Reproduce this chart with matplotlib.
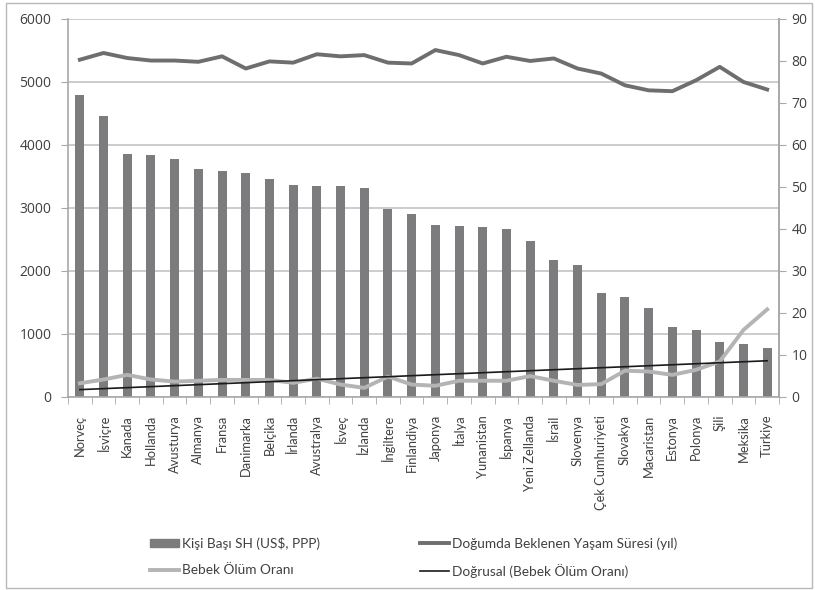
import numpy as np
import matplotlib
matplotlib.use("Agg")
import matplotlib.pyplot as plt
from matplotlib.patches import Rectangle
from matplotlib.lines import Line2D

plt.rcParams['font.family'] = ['Lato', 'DejaVu Sans']

countries = ["Norveç", "İsviçre", "Kanada", "Hollanda", "Avusturya", "Almanya",
             "Fransa", "Danimarka", "Belçika", "İrlanda", "Avustralya", "İsveç",
             "İzlanda", "İngiltere", "Finlandiya", "Japonya", "İtalya", "Yunanistan",
             "İspanya", "Yeni Zellanda", "İsrail", "Slovenya", "Çek Cumhuriyeti",
             "Slovakya", "Macaristan", "Estonya", "Polonya", "Şili", "Meksika", "Türkiye"]

# Per-capita health expenditure (US$, PPP)
health_spend = [4786, 4453, 3855, 3836, 3783, 3620, 3583, 3546, 3456, 3367,
                3345, 3345, 3308, 2981, 2907, 2728, 2712, 2696, 2660, 2474,
                2169, 2095, 1641, 1583, 1404, 1108, 1056, 871, 834, 781]

# Life expectancy at birth (years)
life_exp = [80.3, 81.9, 80.7, 80.1, 80.1, 79.8, 81.1, 78.2, 79.9, 79.6,
            81.6, 81.1, 81.4, 79.6, 79.4, 82.6, 81.4, 79.4, 81.0, 80.0,
            80.6, 78.2, 77.0, 74.2, 73.0, 72.8, 75.4, 78.6, 75.0, 73.2]

# Infant mortality rate
infant_mort = [3.2, 4.1, 5.2, 4.1, 3.6, 3.8, 4.0, 4.0, 4.0, 3.3,
               4.3, 2.9, 2.1, 4.8, 2.9, 2.6, 3.8, 3.8, 3.8, 4.9,
               3.8, 2.8, 3.0, 6.2, 6.0, 5.2, 6.4, 8.4, 15.9, 20.8]

left_ticks = [0, 1000, 2000, 3000, 4000, 5000, 6000]
right_ticks = [0, 10, 20, 30, 40, 50, 60, 70, 80, 90]

bar_color = "#7c7c7e"
life_color = "#6e6e6e"
infant_color = "#b4b4b4"
trend_color = "#1a1a1a"
grid_color = "#c4c4c4"
spine_color = "#a8a8a8"
text_color = "#404040"
num_font = ['Open Sans', 'DejaVu Sans']

fig = plt.figure(figsize=(8.15, 5.9), dpi=100)
fig.patch.set_facecolor("white")
fig.patches.append(Rectangle((6 / 815, 2 / 590), 806 / 815, 585 / 590,
                             transform=fig.transFigure, fill=False,
                             edgecolor="#b8b8b8", linewidth=1.0))

ax = fig.add_axes([68 / 815, 1 - 396.7 / 590, (779 - 68) / 815, (396.7 - 19) / 590])
x = np.arange(len(countries))

ax.bar(x, health_spend, width=0.38, color=bar_color, zorder=2)
ax.set_xlim(-0.5, len(countries) - 0.5)
ax.set_ylim(0, 6000)
ax.set_yticks(left_ticks)
ax.set_yticklabels([str(v) for v in left_ticks], family=num_font)
ax.yaxis.grid(True, color=grid_color, linewidth=1.2, zorder=0)
ax.set_axisbelow(True)

ax.set_xticks(x)
ax.set_xticklabels(countries, rotation=90, fontsize=9.3, color=text_color)
ax.set_xticks(np.arange(-0.5, len(countries)), minor=True)
ax.tick_params(axis="x", which="major", length=0, pad=13)
ax.tick_params(axis="x", which="minor", length=5, color=spine_color, direction="out")
ax.tick_params(axis="y", length=5, color=spine_color, labelsize=10,
               labelcolor=text_color, pad=7)

ax.spines["top"].set_visible(False)
for side in ("left", "bottom", "right"):
    ax.spines[side].set_color(spine_color)
    ax.spines[side].set_linewidth(1.2)

ax2 = ax.twinx()
ax2.set_ylim(0, 90)
ax2.set_yticks(right_ticks)
ax2.set_yticklabels([str(v) for v in right_ticks], family=num_font)
ax2.tick_params(axis="y", length=5, color=spine_color, labelsize=10,
                labelcolor=text_color, pad=4)
for side in ("top", "left", "bottom"):
    ax2.spines[side].set_visible(False)
ax2.spines["right"].set_color(spine_color)
ax2.spines["right"].set_linewidth(1.2)

ax2.plot(x, life_exp, color=life_color, linewidth=2.8, solid_joinstyle="round", zorder=3)
ax2.plot(x, infant_mort, color=infant_color, linewidth=2.8, solid_joinstyle="round", zorder=3)

# Linear trendline of the infant mortality series
slope, intercept = np.polyfit(x, infant_mort, 1)
ax2.plot(x, slope * x + intercept, color=trend_color, linewidth=1.2, zorder=4)

legend_kw = dict(loc="upper left", frameon=False, fontsize=9.8, handlelength=2.1,
                 handleheight=0.55, handletextpad=0.25, labelspacing=1.05,
                 borderaxespad=0, borderpad=0)

leg1 = fig.legend([Rectangle((0, 0), 1, 1, color=bar_color),
                   Line2D([], [], color=infant_color, linewidth=2.8)],
                  ["Kişi Başı SH (US$, PPP)", "Bebek Ölüm Oranı"],
                  bbox_to_anchor=(150 / 815, 1 - 537 / 590), **legend_kw)
leg2 = fig.legend([Line2D([], [], color=life_color, linewidth=2.8),
                   Line2D([], [], color=trend_color, linewidth=1.2)],
                  ["Doğumda Beklenen Yaşam Süresi (yıl)", "Doğrusal (Bebek Ölüm Oranı)"],
                  bbox_to_anchor=(420 / 815, 1 - 537 / 590), **legend_kw)
for leg in (leg1, leg2):
    for t in leg.get_texts():
        t.set_color(text_color)

fig.savefig("out.png", dpi=100, facecolor="white")
